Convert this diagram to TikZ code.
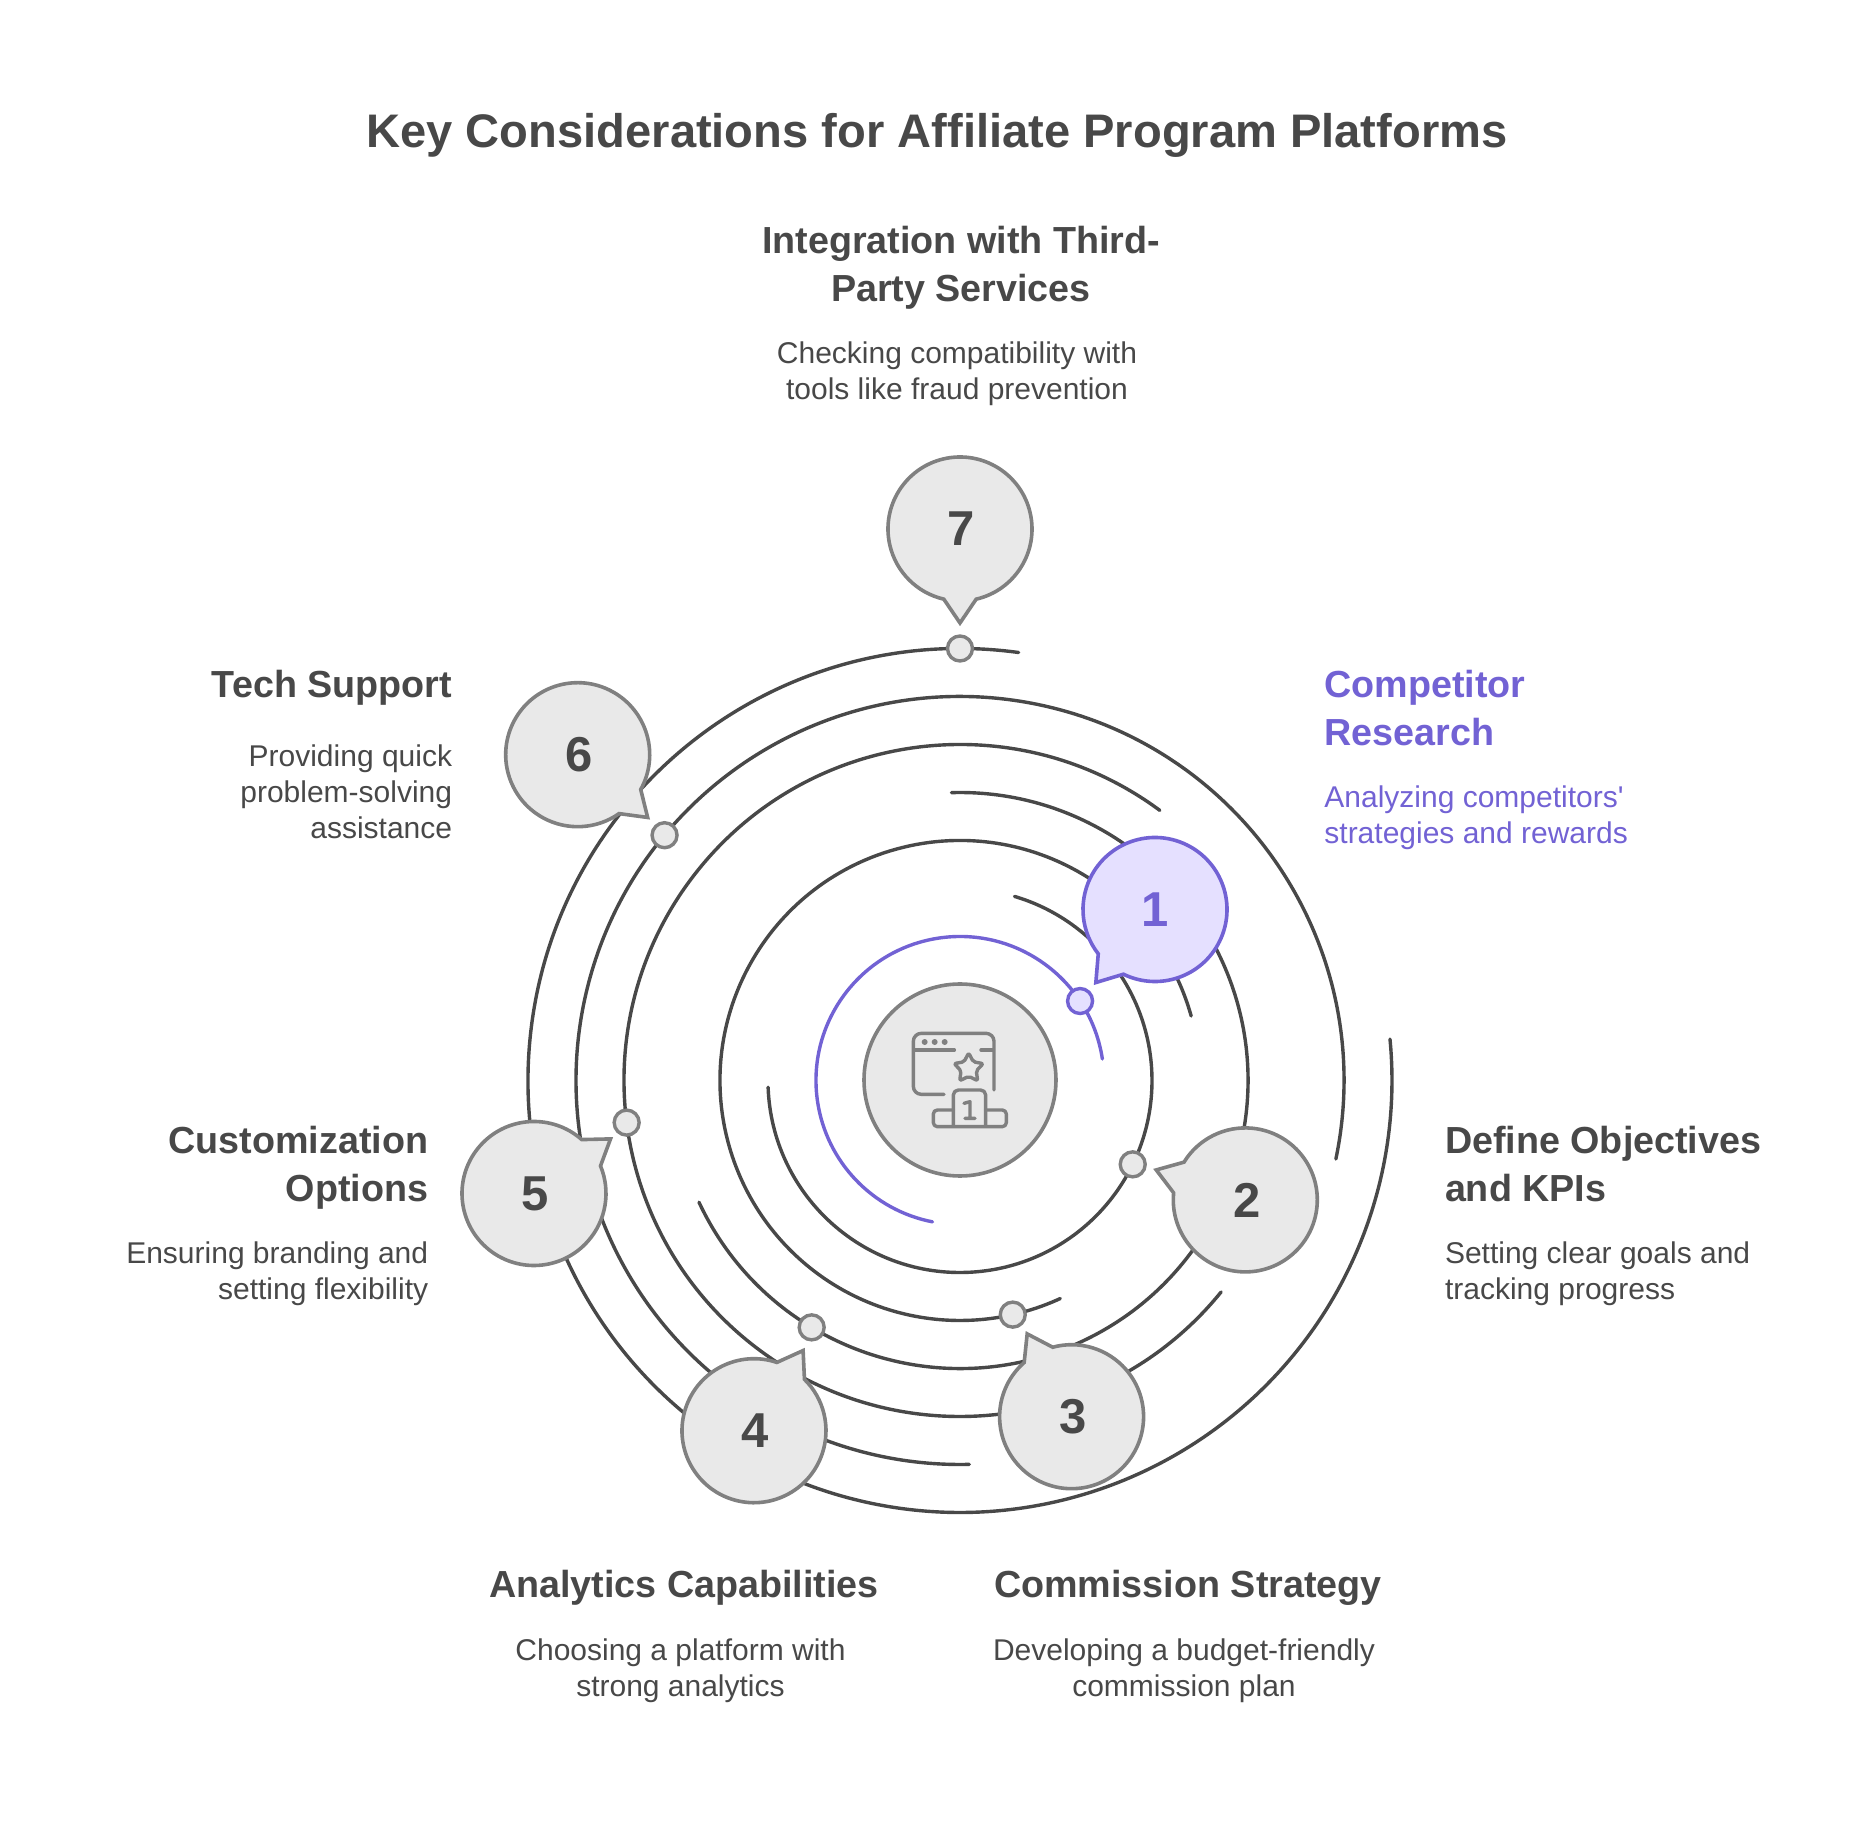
\documentclass[tikz,border=0pt]{standalone}
\usepackage{fontspec}
\setmainfont{Liberation Sans}
\definecolor{inkgray}{HTML}{484848}
\definecolor{ringgray}{HTML}{484848}
\definecolor{edgegray}{HTML}{808080}
\definecolor{fillgray}{HTML}{E9E9E9}
\definecolor{inkpurple}{HTML}{7262D4}
\definecolor{fillpurple}{HTML}{E5E0FF}
\tikzset{
  ring/.style={line width=1.7pt,line cap=round,draw=ringgray},
  graybub/.style={line width=1.8pt,draw=edgegray,fill=fillgray,miter limit=10},
  purplebub/.style={line width=1.8pt,draw=inkpurple,fill=fillpurple,miter limit=10},
  graynum/.style={text=inkgray,xshift=0.8pt,font=\fontsize{24.5}{28}\selectfont\bfseries},
  purplenum/.style={text=inkpurple,font=\fontsize{24.5}{28}\selectfont\bfseries},
  graydot/.style={circle,draw=edgegray,fill=fillgray,line width=1.7pt,minimum size=12.5pt,inner sep=0pt},
  purpledot/.style={circle,draw=inkpurple,fill=fillpurple,line width=1.7pt,minimum size=12.5pt,inner sep=0pt},
  headtext/.style={text=inkgray,inner sep=0pt,font=\fontsize{18.85}{24}\selectfont\bfseries},
  desctext/.style={text=inkgray,inner sep=0pt,font=\fontsize{15}{18}\selectfont},
  icon/.style={line width=1.7pt,draw=edgegray,line cap=round,line join=round},
}
\begin{document}
\begin{tikzpicture}[x=0.5pt,y=0.5pt]
    \useasboundingbox (-960,-743.5) rectangle (912,1080.5);
    % title
    \node[headtext,font=\fontsize{23.55}{28}\selectfont\bfseries] (title) at (-23,944.7) {Key Considerations for Affiliate Program Platforms};
    % rings: radius / start / end, all counter-clockwise
    \draw[ring,draw=inkpurple] (8.6:144) arc[start angle=8.6,end angle=259,radius=144];
    \foreach \rr/\sa/\ea in {192/-178/73.5, 240/15.6/294.7, 288/205/451.7, 336/53.5/321, 384/-11.8/271.4, 432/82.2/365.5}
      \draw[ring] (\sa:\rr) arc[start angle=\sa,end angle=\ea,radius=\rr];
    % speech bubbles: number / centre / tail direction / colour
    \foreach \n/\bx/\by/\ang/\kind in {1/195/171/231/purple, 2/285.3/-119.4/161.4/gray, 3/111.6/-336.2/118.2/gray,
      4/-206/-350.2/58.5/gray, 5/-426/-113/35.5/gray, 6/-382.3/325.8/-41.9/gray, 7/0/551.5/-90/gray}{
      \draw[\kind bub] (\bx,\by) ++(\ang+13:72) arc[start angle=\ang+13,end angle=\ang+347,radius=72]
        -- ({\bx+94*cos(\ang)},{\by+94*sin(\ang)}) -- cycle;
      \node[\kind num] (num\n) at (\bx,\by) {\n};
    }
    % dots on the rings
    \node[purpledot] (dot1) at (33.5:144) {};
    \foreach \n/\ra/\rr in {2/-25.9/192, 3/-77.3/240, 4/239/288, 5/187.2/336, 6/140.3/384, 7/90/432}
      \node[graydot] (dot\n) at (\ra:\rr) {};
    % middle disc
    \node[circle,draw=edgegray,fill=fillgray,line width=1.8pt,minimum size=96pt,inner sep=0pt] (hub) at (0,0.5) {};
    % icon in the disc, in units of a third of a pixel
    \begin{scope}[shift={(-140,140.5)},x=0.16667pt,y=-0.16667pt]
      \draw[icon,rounded corners=4pt] (372,463) -- (280,463) -- (280,280) -- (522,280) -- (522,450);
      \draw[icon] (285,330) -- (403,330) (483,330) -- (520,330);
      \foreach \dx in {314,344,374}
        \fill[edgegray] (\dx,306) circle[radius=9];
      \draw[icon,rounded corners=1pt] (446,339) -- (460.1,365.6) -- (489.7,370.8) -- (468.8,392.4) -- (473,422.2)
        -- (446,409) -- (419,422.2) -- (423.2,392.4) -- (402.3,370.8) -- (431.9,365.6) -- cycle;
      \draw[icon,rounded corners=2.5pt] (400,556) -- (400,450) -- (497,450) -- (497,556);
      \draw[icon,rounded corners=2pt] (400,510) -- (340,510) -- (340,560) -- (559,560) -- (559,510) -- (497,510);
      \draw[icon] (432,490) -- (450,485) -- (450,535) (435,535) -- (465,535);
    \end{scope}
    % labels
    \node[headtext,text=inkpurple,align=left,anchor=west] (head1) at (364,372) {Competitor\\Research};
    \node[desctext,text=inkpurple,align=left,anchor=west] (desc1) at (364,262.6) {Analyzing competitors\textquotesingle\\strategies and rewards};
    \node[headtext,align=left,anchor=west] (head2) at (484.6,-83.5) {Define Objectives\\and KPIs};
    \node[desctext,align=left,anchor=west] (desc2) at (484.6,-193.4) {Setting clear goals and\\tracking progress};
    \node[headtext,align=center] (head3) at (228,-507.5) {Commission Strategy};
    \node[desctext,align=center] (desc3) at (224,-589.9) {Developing a budget-friendly\\commission plan};
    \node[headtext,align=center] (head4) at (-276,-507.5) {Analytics Capabilities};
    \node[desctext,align=center] (desc4) at (-279.5,-589.9) {Choosing a platform with\\strong analytics};
    \node[headtext,align=right,anchor=east] (head5) at (-531.4,-87.1) {Customization\\Options};
    \node[desctext,align=right,anchor=east] (desc5) at (-531.4,-193.4) {Ensuring branding and\\setting flexibility};
    \node[headtext,align=right,anchor=east] (head6) at (-507.5,392.9) {Tech Support};
    \node[desctext,align=right,anchor=east] (desc6) at (-507.5,288.9) {Providing quick\\problem-solving\\assistance};
    \node[headtext,align=center] (head7) at (1,812.9) {Integration with Third-\\Party Services};
    \node[desctext,align=center] (desc7) at (-3,706.8) {Checking compatibility with\\tools like fraud prevention};
\end{tikzpicture}
\end{document}
